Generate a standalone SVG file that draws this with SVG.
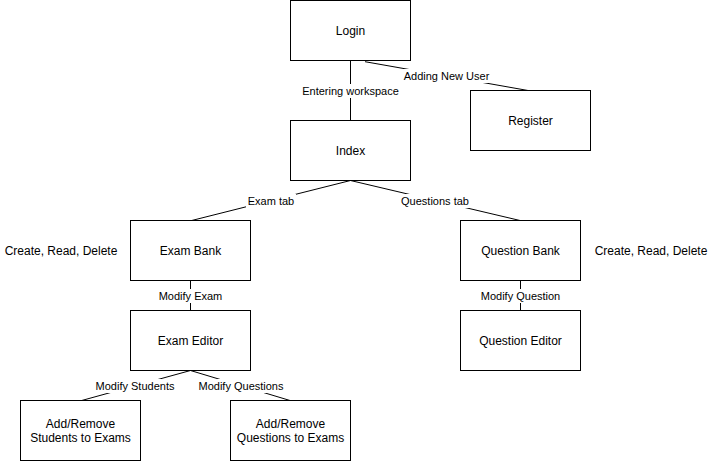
<svg xmlns="http://www.w3.org/2000/svg" width="711" height="461" viewBox="0 0 711 461">
<style>
.node rect{fill:#fff;stroke:#000;stroke-width:1}
.nt{font-family:"Liberation Sans",Arial,sans-serif;font-size:12px;fill:#000;text-anchor:middle;dominant-baseline:central}
.edges line{stroke:#000;stroke-width:1;fill:none}
.lb{fill:#fff}
.et{font-family:"Liberation Sans",Arial,sans-serif;font-size:11px;fill:#000;text-anchor:middle;dominant-baseline:central}
</style>
<rect width="711" height="461" fill="#fff"/>
<g id="connectors" class="edges">
<line x1="350.5" y1="60.5" x2="350.5" y2="120.5"/>
<line x1="365" y1="61.7" x2="528" y2="90.5"/>
<line x1="350.5" y1="180.5" x2="191.7" y2="220.5"/>
<line x1="350.5" y1="180.5" x2="520" y2="220.5"/>
<line x1="190.5" y1="280.5" x2="190.5" y2="310.5"/>
<line x1="520.5" y1="280.5" x2="520.5" y2="310.5"/>
<line x1="190.5" y1="370.5" x2="81.7" y2="400.5"/>
<line x1="190.5" y1="370.5" x2="290" y2="400.5"/>
<rect class="lb" x="301" y="84" width="99" height="14"/>
<text class="et" x="350.5" y="91">Entering workspace</text>
<rect class="lb" x="403" y="69" width="87" height="14"/>
<text class="et" x="446.5" y="76">Adding New User</text>
<rect class="lb" x="246" y="194" width="50" height="14"/>
<text class="et" x="271" y="201">Exam tab</text>
<rect class="lb" x="399" y="194" width="72" height="14"/>
<text class="et" x="435" y="201">Questions tab</text>
<rect class="lb" x="157" y="289" width="66" height="14"/>
<text class="et" x="190.5" y="296">Modify Exam</text>
<rect class="lb" x="479" y="289" width="83" height="14"/>
<text class="et" x="520.5" y="296">Modify Question</text>
<rect class="lb" x="94" y="379" width="82" height="14"/>
<text class="et" x="135" y="386">Modify Students</text>
<rect class="lb" x="196" y="379" width="90" height="14"/>
<text class="et" x="241" y="386">Modify Questions</text>
</g>
<g id="login" class="node"><rect x="290.5" y="0.5" width="120" height="60"/><text class="nt" x="350.5" y="30.5">Login</text></g>
<g id="register" class="node"><rect x="470.5" y="90.5" width="120" height="60"/><text class="nt" x="530.5" y="120.5">Register</text></g>
<g id="index" class="node"><rect x="290.5" y="120.5" width="120" height="60"/><text class="nt" x="350.5" y="150.5">Index</text></g>
<g id="exam-bank" class="node"><rect x="130.5" y="220.5" width="120" height="60"/><text class="nt" x="190.5" y="250.5">Exam Bank</text></g>
<g id="question-bank" class="node"><rect x="460.5" y="220.5" width="120" height="60"/><text class="nt" x="520.5" y="250.5">Question Bank</text></g>
<g id="exam-editor" class="node"><rect x="130.5" y="310.5" width="120" height="60"/><text class="nt" x="190.5" y="340.5">Exam Editor</text></g>
<g id="question-editor" class="node"><rect x="460.5" y="310.5" width="120" height="60"/><text class="nt" x="520.5" y="340.5">Question Editor</text></g>
<g id="add-students" class="node"><rect x="20.5" y="400.5" width="120" height="60"/><text class="nt" x="80.5" y="423.5">Add/Remove</text><text class="nt" x="80.5" y="437.5">Students to Exams</text></g>
<g id="add-questions" class="node"><rect x="230.5" y="400.5" width="120" height="60"/><text class="nt" x="290.5" y="423.5">Add/Remove</text><text class="nt" x="290.5" y="437.5">Questions to Exams</text></g>
<g id="crd-left"><text class="nt" x="61" y="250.5">Create, Read, Delete</text></g>
<g id="crd-right"><text class="nt" x="651" y="250.5">Create, Read, Delete</text></g>
</svg>
